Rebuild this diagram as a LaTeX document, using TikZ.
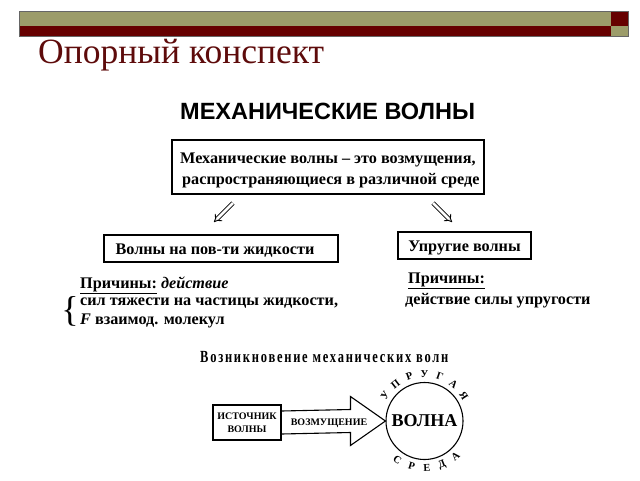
\documentclass[tikz,border=0pt]{standalone}
\usepackage{fontspec}
\setmainfont{Liberation Serif}
\newfontfamily\hsans{Liberation Sans}
\usetikzlibrary{arrows.meta,calc}
\definecolor{barolive}{HTML}{9C9C6A}
\definecolor{barred}{HTML}{660000}
\definecolor{titlered}{HTML}{5E0B0B}
\tikzset{
  box/.style={draw=black, line width=1.1pt, inner sep=0pt},
  bodytext/.style={font=\fontsize{16.2}{18}\selectfont\bfseries, anchor=base west, inner sep=0pt},
  dblarrow/.style={double, double distance=2.6pt, line width=0.9pt, -{Implies}},
  circletxt/.style={font=\fontsize{10.5}{10.5}\selectfont\bfseries, inner sep=0pt}
}
\begin{document}
\begin{tikzpicture}[x=1pt,y=-1pt]
\useasboundingbox (0,0) rectangle (640,480);
\fill[white] (0,0) rectangle (640,480);
% top bars
\fill[barolive] (19,11) rectangle (611,25.5);
\fill[barred] (611,11) rectangle (628,25.5);
\fill[barred] (19,25.5) rectangle (611,36);
\fill[barolive] (611,25.5) rectangle (628,36);
\draw[black!60, line width=0.4pt] (19,11) rectangle (628,36);
% title
\node[anchor=base west, inner sep=0pt, text=titlered, font=\fontsize{35.5}{38}\selectfont] (title) at (38,63) {Опорный конспект};
% heading
\node[anchor=base west, inner sep=0pt, font=\hsans\fontsize{23.5}{26}\selectfont\bfseries] (head) at (180,119) {МЕХАНИЧЕСКИЕ ВОЛНЫ};
% box 1
\node[box, minimum width=312pt, minimum height=54pt] (b1) at (328,167) {};
\node[bodytext] (t1a) at (180,163) {Механические волны – это возмущения,};
\node[bodytext] (t1b) at (182,184) {распространяющиеся в различной среде};
% boxes 2, 3
\node[box, minimum width=234pt, minimum height=27pt] (b2) at (221,248.5) {};
\node[bodytext, anchor=base] (t2) at (215,254) {Волны на пов-ти жидкости};
\node[box, minimum width=133pt, minimum height=27pt] (b3) at (464.5,245.5) {};
\node[bodytext, anchor=base] (t3) at (464.5,251) {Упругие волны};
% double arrows
\coordinate (a1s) at (233,203);
\coordinate (a1e) at (214,222);
\coordinate (a2s) at (433,203);
\coordinate (a2e) at (452,222);
\draw[dblarrow] (a1s) -- (a1e);
\draw[dblarrow] (a2s) -- (a2e);
% left causes
\node[bodytext] (c1) at (80,288) {\underline{Причины:} \textit{действие}};
\node[bodytext] (c2) at (80,305) {сил тяжести на частицы жидкости,};
\node[bodytext] (c3) at (80,324) {\textit{F} взаимод. молекул};
\node[anchor=center, inner sep=0pt, font=\fontsize{36}{36}\selectfont] (brace) at (70,311) {\{};
% right causes
\node[bodytext] (c4) at (408,283) {\underline{Причины:}};
\node[bodytext] (c5) at (405,304) {действие силы упругости};
% bottom heading
\node[anchor=base west, inner sep=0pt, font=\fontsize{17}{17}\selectfont\bfseries] (vozn) at (200,362) {\scalebox{0.735}[1]{\addfontfeatures{LetterSpace=14}Возникновение механических волн}};
% source box
\node[box, minimum width=68pt, minimum height=35pt, align=center, font=\fontsize{10}{13}\selectfont\bfseries] (src) at (247,422.5) {ИСТОЧНИК\\ВОЛНЫ};
% circle
\node[draw, circle, line width=1.1pt, minimum size=77pt, inner sep=0pt, font=\fontsize{18}{18}\selectfont\bfseries] (circ) at (424.5,421) {ВОЛНА};
% hollow arrow
\coordinate (tip) at (circ.west);
\draw[line width=1.1pt, line join=miter]
  ($(src.east)+(0,-11.5)$) -- ($(tip)+(-35,-11.5)$) -- ($(tip)+(-35,-24.5)$) -- (tip)
  -- ($(tip)+(-35,24.5)$) -- ($(tip)+(-35,11.5)$) -- ($(src.east)+(0,11.5)$);
\node[anchor=center, inner sep=0pt, font=\fontsize{10}{10}\selectfont\bfseries] (vozm) at (329,423) {ВОЗМУЩЕНИЕ};
% circle letters
\foreach \l/\a in {У/147,П/128,Р/109,У/90,Г/71,А/52,Я/33}
  \node[circletxt, rotate=\a-90] at ($(circ.center)+({47*cos(\a)},{-47*sin(\a)})$) {\l};
\foreach \l/\a in {С/-125,Р/-106,Е/-87,Д/-68,А/-49}
  \node[circletxt, rotate=\a+90] at ($(circ.center)+({47*cos(\a)},{-47*sin(\a)})$) {\l};
\end{tikzpicture}
\end{document}
